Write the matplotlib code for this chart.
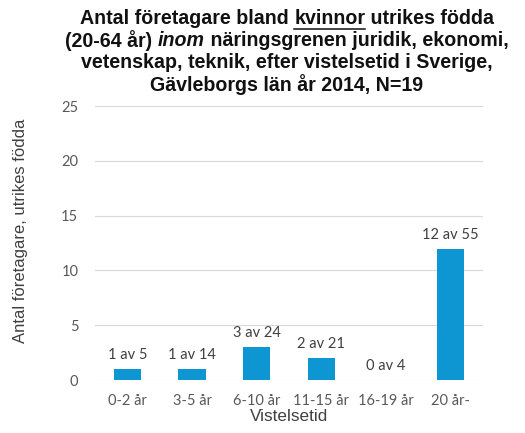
import matplotlib
import matplotlib.pyplot as plt
from matplotlib.lines import Line2D
matplotlib.use('agg')

categories = ['0-2 år', '3-5 år', '6-10 år', '11-15 år', '16-19 år', '20 år-']
values = [1, 1, 3, 2, 0, 12]
totals = [5, 14, 24, 21, 4, 55]
yticks = [0, 5, 10, 15, 20, 25]

BAR_COLOR = '#0E96D3'
TEXT_GRAY = '#404040'

fig = plt.figure(figsize=(5.25, 4.33), dpi=100)
ax = fig.add_axes([0.181, 0.1224, 0.739, 0.6326])

x = range(len(categories))
ax.bar(x, values, width=0.42, color=BAR_COLOR, zorder=3)
for i, (v, t) in enumerate(zip(values, totals)):
    ax.annotate(f'{v} av {t}', (i, v), xytext=(0, 5), textcoords='offset points',
                ha='center', va='bottom', fontsize=10.5, family='Lato', color=TEXT_GRAY)

ax.set_xlim(-0.5, len(categories) - 0.5)
ax.set_ylim(0, 25)
ax.set_yticks(yticks)
ax.set_xticks(list(x))
ax.set_xticklabels(categories)
ax.grid(axis='y', color='#D9D9D9', linewidth=0.8, zorder=0)
for s in ax.spines.values():
    s.set_visible(False)
ax.tick_params(length=0, labelsize=10.5, labelcolor='#595959')
ax.tick_params(axis='x', pad=10)
ax.tick_params(axis='y', pad=12)
for lbl in ax.get_xticklabels() + ax.get_yticklabels():
    lbl.set_family('Lato')

ax.set_xlabel('Vistelsetid', family='Liberation Sans', fontsize=12.3, color=TEXT_GRAY, labelpad=1)
fig.text(0.04, 1 - 231 / 433, 'Antal företagare, utrikes födda', rotation=90, ha='center', va='center',
         family='Liberation Sans', fontsize=12, color=TEXT_GRAY)

# title built from pieces so one word can be underlined and one in italics
title_lines = [
    [('Antal företagare bland ', 'normal', False), ('kvinnor', 'normal', True), (' utrikes födda', 'normal', False)],
    [('(20-64 år) ', 'normal', False), ('inom', 'italic', False), (' näringsgrenen juridik, ekonomi,', 'normal', False)],
    [('vetenskap, teknik, efter vistelsetid i Sverige,', 'normal', False)],
    [('Gävleborgs län år 2014, N=19', 'normal', False)],
]
renderer = fig.canvas.get_renderer()
cx = 287 / 525
line_y = [1 - 19 / 433, 1 - 41 / 433, 1 - 63 / 433, 1 - 85 / 433]
for parts, yy in zip(title_lines, line_y):
    texts = []
    widths = []
    for s, style, ul in parts:
        t = fig.text(0, yy, s, family='Liberation Sans', weight='bold', style=style,
                     fontsize=14.1, va='center', ha='left', color='#111111')
        bb = t.get_window_extent(renderer)
        texts.append((t, ul))
        widths.append(bb.width / fig.bbox.width)
    xpos = cx - sum(widths) / 2
    for (t, ul), w in zip(texts, widths):
        t.set_x(xpos)
        if ul:
            uy = yy - 9.5 / 433
            fig.add_artist(Line2D([xpos, xpos + w], [uy, uy], color='#111111', linewidth=1.1,
                                  transform=fig.transFigure))
        xpos += w

fig.savefig('out.png', dpi=100)
plt.close(fig)
